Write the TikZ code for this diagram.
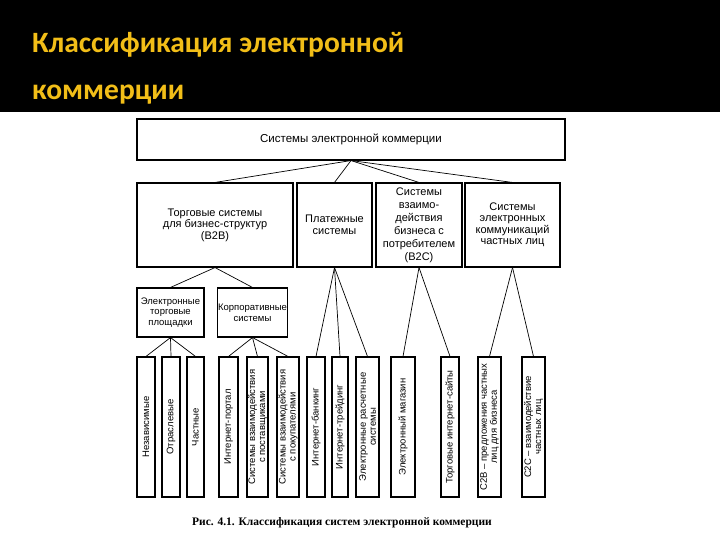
\documentclass[tikz,border=0pt]{standalone}
\usepackage{fontspec}
\setmainfont{Liberation Serif}
\setsansfont{Liberation Sans}
\newfontfamily\titlefont{Carlito}
\definecolor{titlegold}{RGB}{242,190,24}
\tikzset{
  box/.style  = {draw, line width=1.1pt, align=center, inner sep=1pt, font=\sffamily\fontsize{11}{11.5}\selectfont},
  sbox/.style = {box, inner sep=0.5pt, font=\sffamily\fontsize{9.5}{10.8}\selectfont},
  vbox/.style = {box, rotate=90, minimum width=140pt, inner sep=0.5pt, font=\sffamily\fontsize{9.5}{10}\selectfont},
  link/.style = {line width=0.7pt}
}

\begin{document}
\begin{tikzpicture}[x=1pt,y=-1pt]
\useasboundingbox (0,0) rectangle (720,540);
\fill[white] (0,0) rectangle (720,540);
\fill[black] (0,0) rectangle (720,112);
\node[anchor=base west, inner sep=0pt, align=left, text=titlegold,
  font=\titlefont\bfseries\fontsize{29.5}{47}\selectfont] (title) at (32,100)
  {Классификация электронной\\коммерции};

% top level
\node[box, minimum width=428pt, minimum height=41pt, font=\sffamily\fontsize{11.5}{12}\selectfont] (ecs) at (351,139.5) {Системы электронной коммерции};

% second level
\node[box, minimum width=156pt, minimum height=84pt] (b2b) at (215,225) {Торговые системы\\для бизнес-структур\\(B2B)};
\node[box, minimum width=75pt, minimum height=84pt] (pay) at (334.5,225) {Платежные\\системы};
\node[box, minimum width=86pt, minimum height=84pt, font=\sffamily\fontsize{11}{13}\selectfont] (b2c) at (419,225) {Системы\\взаимо-\\действия\\бизнеса с\\потребителем\\(B2C)};
\node[box, minimum width=95pt, minimum height=84pt] (priv) at (512.5,225) {Системы\\электронных\\коммуникаций\\частных лиц};
\draw[link] (ecs.south) -- (b2b.north);
\draw[link] (ecs.south) -- (pay.north);
\draw[link] (ecs.south) -- (b2c.north);
\draw[link] (ecs.south) -- (priv.north);

% third level (B2B)
\node[sbox, minimum width=67pt, minimum height=49pt] (etp) at (170.5,312.5) {Электронные\\торговые\\площадки};
\node[sbox, minimum width=69pt, minimum height=49pt] (corp) at (252.5,312.5) {Корпоративные\\системы};
\draw[link] (b2b.south) -- (etp.north);
\draw[link] (b2b.south) -- (corp.north);

% leaves (vertical text, node east = top)
\node[vbox, minimum height=18pt] (indep) at (146,427) {Независимые};
\node[vbox, minimum height=18pt] (branch) at (171,427) {Отраслевые};
\node[vbox, minimum height=17pt] (own) at (195.5,427) {Частные};
\node[vbox, minimum height=19pt] (portal) at (228.5,427) {Интернет-портал};
\node[vbox, minimum height=21pt] (supp) at (257.5,427) {Системы взаимодействия\\с поставщиками};
\node[vbox, minimum height=22pt] (cust) at (288,427) {Системы взаимодействия\\с покупателями};
\node[vbox, minimum height=18pt] (bank) at (316,427) {Интернет-банкинг};
\node[vbox, minimum height=16pt] (trade) at (340,427) {Интернет-трейдинг};
\node[vbox, minimum height=23pt] (calc) at (367.5,427) {Электронные расчетные\\системы};
\node[vbox, minimum height=24pt] (shop) at (403,427) {Электронный магазин};
\node[vbox, minimum height=18pt] (sites) at (450,427) {Торговые интернет-сайты};
\node[vbox, minimum height=23pt] (ctob) at (489.5,427) {C2B -- предложения частных\\лиц для бизнеса};
\node[vbox, minimum height=23pt] (ctoc) at (533.5,427) {C2C -- взаимодействие\\частных лиц};

\foreach \leaf in {indep,branch,own} \draw[link] (etp.south) -- (\leaf.east);
\foreach \leaf in {portal,supp,cust} \draw[link] (corp.south) -- (\leaf.east);
\foreach \leaf in {bank,trade,calc} \draw[link] (pay.south) -- (\leaf.east);
\foreach \leaf in {shop,sites} \draw[link] (b2c.south) -- (\leaf.east);
\foreach \leaf in {ctob,ctoc} \draw[link] (priv.south) -- (\leaf.east);

\node[font=\bfseries\fontsize{11.5}{13}\selectfont] (caption) at (342,523) {Рис. 4.1. Классификация систем электронной коммерции};
\end{tikzpicture}
\end{document}
